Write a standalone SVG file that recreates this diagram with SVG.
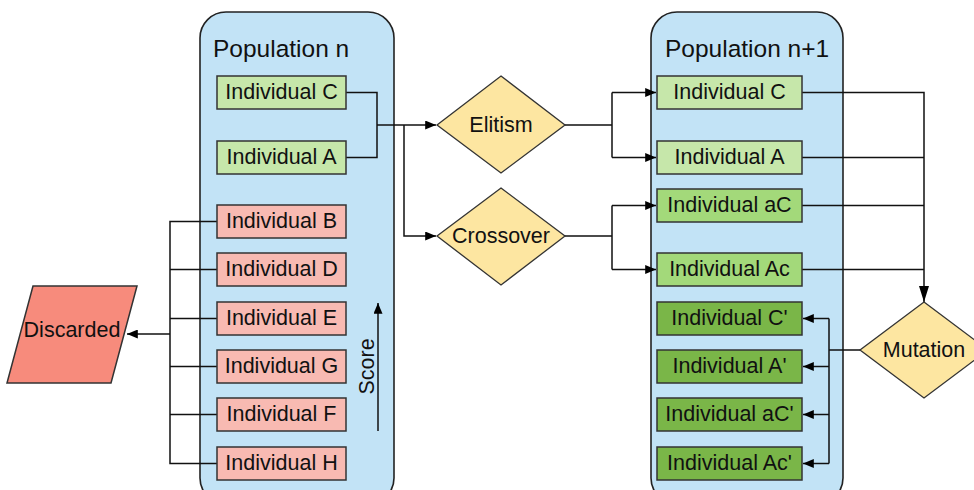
<svg xmlns="http://www.w3.org/2000/svg" width="974" height="490" viewBox="0 0 974 490">
  <defs>
    <marker id="arrow" viewBox="0 0 12 10" refX="12" refY="5" markerWidth="12" markerHeight="9" markerUnits="userSpaceOnUse" orient="auto">
      <path d="M0,0 L12,5 L0,10 Z" fill="#000"/>
    </marker>
    <marker id="arrow-long" viewBox="0 0 16 10" refX="16" refY="5" markerWidth="16" markerHeight="10" markerUnits="userSpaceOnUse" orient="auto">
      <path d="M0,0 L16,5 L0,10 Z" fill="#000"/>
    </marker>
    <style>
      text { font-family: "Liberation Sans", Arial, sans-serif; fill: #111; }
      .label { font-size: 21.5px; text-anchor: middle; }
      .title { font-size: 24.5px; }
      .pop { fill: #c2e3f6; stroke: #222; stroke-width: 1.6; }
      .box { stroke: #333; stroke-width: 1.5; }
      .elite { fill: #c6e7aa; }
      .cross { fill: #a3d97a; }
      .mut { fill: #7ab648; }
      .drop { fill: #f8bab2; }
      .diamond { fill: #fde6a1; stroke: #333; stroke-width: 1.3; }
      .wire { fill: none; stroke: #111; stroke-width: 1.5; }
      .arr { marker-end: url(#arrow); }
    </style>
  </defs>

  <!-- population containers -->
  <g id="population-n">
    <rect class="pop" x="200" y="12" width="194" height="492" rx="26"/>
    <text class="title" x="213" y="57">Population n</text>
  </g>
  <g id="population-n1">
    <rect class="pop" x="651" y="12" width="192" height="492" rx="26"/>
    <text class="title" x="665" y="57">Population n+1</text>
  </g>

  <!-- connectors -->
  <g id="connectors">
    <!-- elite selection -->
    <path class="wire" d="M346,92.5 H377 V157.5 H346"/>
    <path class="wire arr" d="M377,125 H436"/>
    <path class="wire arr" d="M404,125 V236 H436"/>
    <!-- elitism outputs -->
    <path class="wire" d="M565,125 H612 M612,92.5 V157.5"/>
    <path class="wire arr" d="M612,92.5 H656"/>
    <path class="wire arr" d="M612,157.5 H656"/>
    <!-- crossover outputs -->
    <path class="wire" d="M565,236 H612 M612,205.5 V269.5"/>
    <path class="wire arr" d="M612,205.5 H656"/>
    <path class="wire arr" d="M612,269.5 H656"/>
    <!-- into mutation -->
    <path class="wire" d="M802,157.5 H924 M802,205.5 H924 M802,269.5 H924"/>
    <path class="wire" d="M802,92.5 H924 V302" stroke-width="1.8" marker-end="url(#arrow-long)"/>
    <!-- mutation outputs -->
    <path class="wire" d="M860,350 H829 M829,318.5 V463.5"/>
    <path class="wire arr" d="M829,318.5 H803"/>
    <path class="wire arr" d="M829,366.5 H803"/>
    <path class="wire arr" d="M829,414.5 H803"/>
    <path class="wire arr" d="M829,463.5 H803"/>
    <!-- discarded individuals -->
    <path class="wire" d="M217,221.5 H170 V463.5 H217 M217,269.5 H170 M217,318.5 H170 M217,366.5 H170 M217,414.5 H170"/>
    <path class="wire arr" d="M170,334 H127"/>
    <!-- score axis -->
    <path class="wire arr" d="M378,431 V303"/>
  </g>
  <text class="label" transform="translate(374,366.5) rotate(-90)">Score</text>

  <!-- population n individuals -->
  <g id="ind-c"><rect class="box elite" x="217" y="76" width="129" height="33"/><text class="label" x="281.5" y="98.5">Individual C</text></g>
  <g id="ind-a"><rect class="box elite" x="217" y="141" width="129" height="33"/><text class="label" x="281.5" y="163.5">Individual A</text></g>
  <g id="ind-b"><rect class="box drop" x="217" y="205" width="129" height="33"/><text class="label" x="281.5" y="227.5">Individual B</text></g>
  <g id="ind-d"><rect class="box drop" x="217" y="253" width="129" height="33"/><text class="label" x="281.5" y="275.5">Individual D</text></g>
  <g id="ind-e"><rect class="box drop" x="217" y="302" width="129" height="33"/><text class="label" x="281.5" y="324.5">Individual E</text></g>
  <g id="ind-g"><rect class="box drop" x="217" y="350" width="129" height="33"/><text class="label" x="281.5" y="372.5">Individual G</text></g>
  <g id="ind-f"><rect class="box drop" x="217" y="398" width="129" height="33"/><text class="label" x="281.5" y="420.5">Individual F</text></g>
  <g id="ind-h"><rect class="box drop" x="217" y="447" width="129" height="33"/><text class="label" x="281.5" y="469.5">Individual H</text></g>

  <!-- operators -->
  <g id="elitism"><path class="diamond" d="M501,76 L565,125 L501,173 L437,125 Z"/><text class="label" x="501" y="131.5">Elitism</text></g>
  <g id="crossover"><path class="diamond" d="M501,188 L565,236 L501,285 L437,236 Z"/><text class="label" x="501" y="242.5">Crossover</text></g>
  <g id="mutation"><path class="diamond" d="M924,302 L988,350 L924,398 L860,350 Z"/><text class="label" x="924" y="356.5">Mutation</text></g>

  <g id="discarded">
    <path d="M33,286 H137 L111,383 H7 Z" fill="#f78b7c" stroke="#333" stroke-width="1.5"/>
    <text class="label" x="72" y="337">Discarded</text>
  </g>

  <!-- population n+1 individuals -->
  <g id="new-c"><rect class="box elite" x="657" y="76" width="145" height="33"/><text class="label" x="729.5" y="98.5">Individual C</text></g>
  <g id="new-a"><rect class="box elite" x="657" y="141" width="145" height="33"/><text class="label" x="729.5" y="163.5">Individual A</text></g>
  <g id="new-ac1"><rect class="box cross" x="657" y="189" width="145" height="33"/><text class="label" x="729.5" y="211.5">Individual aC</text></g>
  <g id="new-ac2"><rect class="box cross" x="657" y="253" width="145" height="33"/><text class="label" x="729.5" y="275.5">Individual Ac</text></g>
  <g id="new-c-mut"><rect class="box mut" x="657" y="302" width="145" height="33"/><text class="label" x="729.5" y="324.5">Individual C'</text></g>
  <g id="new-a-mut"><rect class="box mut" x="657" y="350" width="145" height="33"/><text class="label" x="729.5" y="372.5">Individual A'</text></g>
  <g id="new-ac1-mut"><rect class="box mut" x="657" y="398" width="145" height="33"/><text class="label" x="729.5" y="420.5">Individual aC'</text></g>
  <g id="new-ac2-mut"><rect class="box mut" x="657" y="447" width="145" height="33"/><text class="label" x="729.5" y="469.5">Individual Ac'</text></g>
</svg>
